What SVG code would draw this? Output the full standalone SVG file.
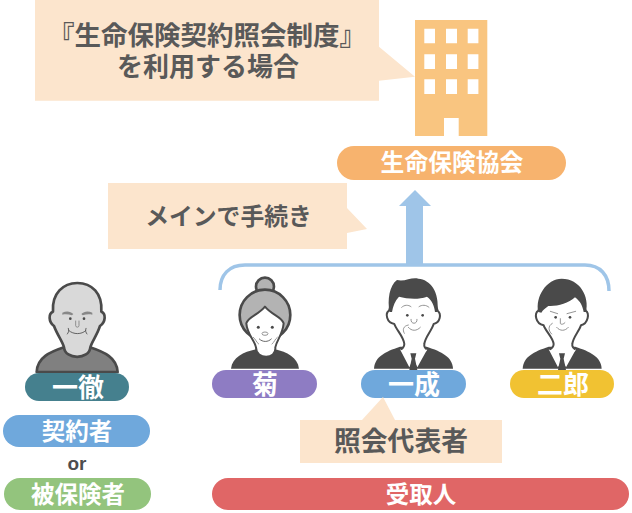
<svg xmlns="http://www.w3.org/2000/svg" xmlns:xlink="http://www.w3.org/1999/xlink" width="632" height="513" viewBox="0 0 632 513">
<style>
text{font-family:"Noto Sans CJK JP","Liberation Sans",sans-serif;font-weight:700;text-anchor:middle}
.w{fill:#fff;font-size:23.5px}
.w2{fill:#fff;font-size:26px}
.d{fill:#595959;font-size:26px}
.call{fill:#fce5cd}
.o{stroke:#4a4a4a;stroke-width:8;stroke-linejoin:round}
.h{fill:#fff;stroke:#4a4a4a;stroke-width:6;stroke-linejoin:round}
.l{fill:none;stroke:#4a4a4a;stroke-width:2.500;stroke-linecap:round}
.thin{fill:none;stroke:#808080;stroke-width:2.500;stroke-linecap:round}
.k{fill:#4a4a4a}
</style>
<defs>
<path id="suit" class="k" d="M-118,66C-116,30-85,15-40,0L40,0C85,15 117,30 119,66Z"/>
<g id="collar">
<path fill="#fff" d="M-40,8L-12,24 0,16 12,24 42,8 12,62 0,38-12,62Z"/>
<path class="k" d="M-9,20H9L5,36 12,70H-12L-5,36Z"/>
</g>
</defs>

<g id="callout-system">
<path class="call" d="M35,0H379V46.700L415,76.700 379,80.700V100.700H35Z"/>
<text class="d"><tspan x="207" y="45" style="font-size:26.500px">『生命保険契約照会制度』</tspan><tspan x="208" y="76">を利用する場合</tspan></text>
</g>

<g id="building">
<path fill="#f9c580" d="M415,20H487.300V136H458.700V118H444V136H415Z"/>
<path fill="#fff" d="M424.300,28.700h10.700v14.600h-10.700zM446,28.700h11v14.600h-11zM467.700,28.700h10.700v14.600h-10.700zM424.300,54.300h10.700v14.700h-10.700zM446,54.300h11v14.700h-11zM467.700,54.300h10.700v14.700h-10.700zM424.300,79.300h10.700v14.700h-10.700zM446,79.300h11v14.700h-11zM467.700,79.300h10.700v14.700h-10.700z"/>
</g>

<g id="association">
<rect x="337" y="146" width="229" height="34" rx="17" fill="#f7b36e"/>
<text class="w" x="452" y="171" style="font-size:23.800px">生命保険協会</text>
</g>

<g id="connectors">
<path fill="#9fc5e8" d="M415,190L431,206H423V266H406V206H399Z"/>
<path fill="none" stroke="#9fc5e8" stroke-width="3.500" d="M220,290C220,275 229,265 245,265H585C600,265 609,275 609,291"/>
</g>

<g id="callout-main">
<path class="call" d="M108,183H347V208L367,229 347,233V249H108Z"/>
<text class="d" x="228.500" y="225" style="font-size:23.800px">メインで手続き</text>
</g>

<g id="person-ittetsu">
<g transform="translate(0,260) scale(.3333)">
<path class="o" fill="#808080" d="M110,336C112,292 150,276 192,262H270C312,276 350,292 353,336Z"/>
<path class="o" fill="#d9d9d9" d="M159,155C155,100 190,69 232,69C275,69 308,100 304,155C318,160 318,185 300,198C292,225 275,245 271,262C268,300 195,300 192,262C188,245 172,225 162,198C145,185 145,160 159,155Z"/>
<path fill="#888" d="M187,158C200,152 212,154 220,162L216,166C205,162 195,162 187,164ZM277,158C264,152 252,154 244,162L248,166C259,162 269,162 277,164Z"/>
<circle class="k" cx="211" cy="176" r="4"/><circle class="k" cx="252" cy="176" r="4"/>
<path class="thin" d="M227,183V197C227,203 237,203 237,197V183"/>
<path class="l" d="M205,205C208,213 205,218 202,222M258,205C255,213 258,218 261,222M207,212C220,224 245,224 257,212"/>
</g>
</g>
<g id="name-ittetsu">
<rect x="25" y="373" width="104" height="28" rx="14" fill="#45808e"/>
<text class="w2" x="78" y="397">一徹</text>
</g>

<g id="person-kiku">
<g transform="translate(0,260) scale(.3333)">
<path class="k" d="M693,326C697,292 730,276 768,268H826C860,276 893,292 897,326Z"/>
<circle class="o" cx="795" cy="80" r="27" fill="#b3b3b3"/>
<circle class="o" cx="795" cy="165" r="76" fill="#b3b3b3"/>
<path class="h" d="M739,190C745,170 775,165 795,140C815,165 845,170 851,190C848,225 830,240 826,262C830,300 768,300 768,262C764,240 742,225 739,190Z"/>
<circle class="k" cx="775" cy="202" r="4.500"/><circle class="k" cx="817" cy="202" r="4.500"/>
<ellipse cx="795" cy="221" rx="9" ry="5" fill="#fff" stroke="#808080" stroke-width="2.500"/>
<path class="l" d="M778,237C788,247 804,247 814,237"/>
<path class="thin" d="M760,232C768,238 768,246 776,252M832,232C824,238 824,246 816,252"/>
</g>
</g>
<g id="name-kiku">
<rect x="212" y="370" width="105" height="28" rx="14" fill="#8e7cc3"/>
<text class="w2" x="265" y="394">菊</text>
</g>

<g id="person-kazunari">
<g transform="translate(375,270) scale(.3333)">
<use xlink:href="#suit" href="#suit" transform="translate(115,230)"/>
<path class="h" d="M42,122C30,130 34,158 58,162C64,180 86,200 88,222C88,232 80,238 72,242L116,272 162,242C152,238 146,232 148,222C150,202 170,182 176,162C196,158 200,132 188,122L170,60H60Z"/>
<use xlink:href="#collar" href="#collar" transform="translate(115,230)"/>
<path class="k" d="M44,126C36,90 44,45 66,30C90,36 110,20 130,26C165,28 195,65 187,126L180,126C178,108 172,92 156,80C128,90 96,86 72,80C60,92 54,108 51,126Z"/>
<path class="thin" d="M80,112C88,104 100,104 108,110M132,110C140,104 154,104 162,112"/>
<circle class="k" cx="97" cy="136" r="4"/><circle class="k" cx="143" cy="136" r="4"/>
<path class="thin" d="M108,148C106,164 128,164 126,148"/>
<path class="thin" d="M100,172C110,184 125,184 136,172M100,165C84,168 82,180 88,190"/>
</g>
</g>
<g id="name-kazunari">
<rect x="361" y="370" width="105" height="28" rx="14" fill="#6fa8dc"/>
<text class="w2" x="414" y="394">一成</text>
</g>

<g id="person-jiro">
<g transform="translate(515,270) scale(.3333)">
<use xlink:href="#suit" href="#suit" transform="translate(141,230)"/>
<path class="h" d="M70,122C58,130 60,160 86,166C92,184 114,202 116,222C116,232 108,238 98,242L142,272 188,242C178,238 170,232 172,222C174,202 192,184 198,166C220,160 224,130 212,122L190,60H100Z"/>
<use xlink:href="#collar" href="#collar" transform="translate(141,230)"/>
<path class="k" d="M70,126C60,80 95,26 140,26C195,26 224,80 213,126L206,126C203,108 196,94 180,82C160,100 125,110 100,108C90,116 84,120 79,128Z"/>
<path class="thin" d="M106,124L128,131M182,124L156,131"/>
<circle class="k" cx="122" cy="142" r="4"/><circle class="k" cx="165" cy="142" r="4"/>
<path class="thin" d="M136,146V160C136,164 146,164 150,158"/>
<path class="thin" d="M125,172C135,184 150,184 160,172M112,160C98,168 100,182 110,192"/>
</g>
</g>
<g id="name-jiro">
<rect x="510" y="370" width="104" height="28" rx="14" fill="#f1c232"/>
<text class="w2" x="563" y="394">二郎</text>
</g>

<g id="callout-rep">
<path class="call" d="M300,420H362L383,397 395,420H502V463H300Z"/>
<text class="d" x="401" y="451" style="font-size:26.800px">照会代表者</text>
</g>

<g id="role-contractor">
<rect x="3" y="415" width="147" height="32" rx="16" fill="#6fa8dc"/>
<text class="w" x="77" y="440">契約者</text>
</g>
<text x="77" y="470" style="font-family:'Liberation Sans',sans-serif;font-size:19px;fill:#4d4d4d">or</text>
<g id="role-insured">
<rect x="4" y="478" width="147" height="32" rx="16" fill="#93c47d"/>
<text class="w" x="78" y="503">被保険者</text>
</g>
<g id="role-recipient">
<rect x="212" y="478" width="417" height="32" rx="16" fill="#e06666"/>
<text class="w" x="421" y="503">受取人</text>
</g>
</svg>
